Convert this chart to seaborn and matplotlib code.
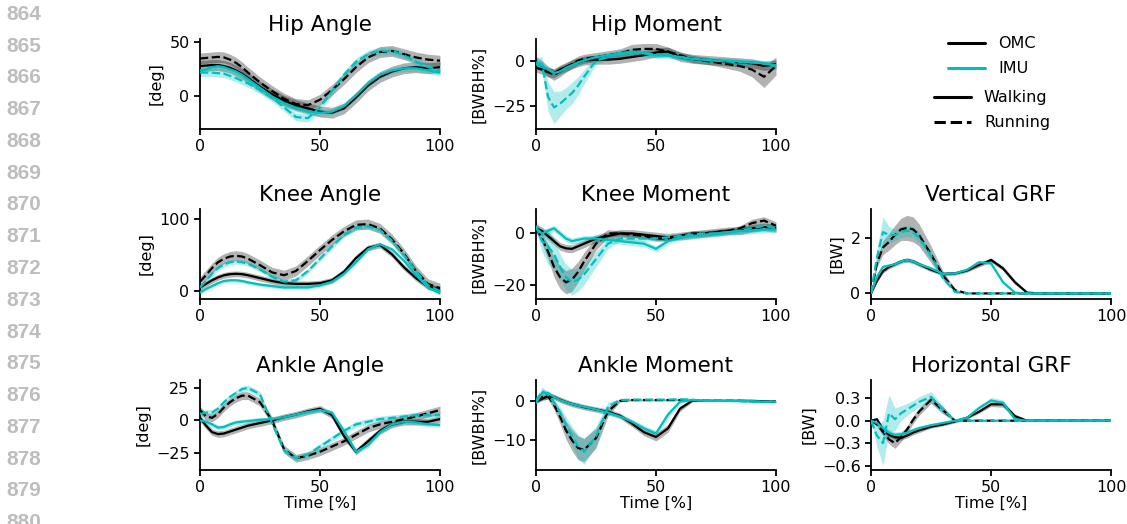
import numpy as np
import matplotlib
matplotlib.use("Agg")
import matplotlib.pyplot as plt
import seaborn as sns
from matplotlib.lines import Line2D

# ---------------- data ----------------
PCT = [0, 2.5, 5, 7.5, 10, 12.5, 15, 17.5, 20, 25, 30, 35, 40, 45, 50,
       55, 60, 65, 70, 75, 80, 85, 90, 95, 100]

# Hip angle [deg]
HA_OMC_W = [28, 28.5, 29, 29, 28, 26.5, 24, 21, 17, 9, 2, -4, -8, -11, -14, -15, -11, -1, 10, 18, 23, 26, 27, 26, 27]
HA_OMC_R = [35, 35.5, 36, 36.5, 36, 34, 31, 27, 22, 13, 5, -2, -7, -8, -3, 6, 16, 27, 36, 41, 42, 39, 36, 34, 33]
HA_IMU_W = [24, 25, 27, 28, 27, 25, 23, 20, 16, 8, 0, -6, -11, -14, -15, -14, -9, 1, 12, 20, 24, 26, 26, 24, 22]
HA_IMU_R = [22, 22, 22, 21.5, 21, 19, 17, 14.5, 12, 6, -1, -10, -19, -20, -10, 5, 20, 32, 39, 42, 42, 38, 32, 27, 24]
HA_SD = dict(omc_w=5, omc_r=5, imu_w=3, imu_r=3.5)

# Hip moment [BWBH%]
HM_OMC_W = [-4, -5, -6.5, -7, -5, -3.5, -2, -1, 0, 0.5, 0.5, 1, 2, 3, 4.5, 5, 2, 1, 0.5, 0, -0.5, -1, -1.5, -3, -2]
HM_OMC_R = [-1, -3, -6, -8, -6, -4, -2, 0, 1, 2, 3, 4, 6, 6.5, 6.5, 5, 3, 1, 0, -1, -2, -3, -5, -9, -3]
HM_IMU_W = [-2, -3, -5, -7, -6, -4, -2.5, -1, 0, 2, 3, 4, 5, 4, 3, 3, 2, 1, 0.5, 0, 0, -0.5, -1, -1.5, -3]
HM_IMU_R = [-1, -2, -20, -26, -24, -21, -18, -14, -9, 0, 2, 4, 5, 4, 3.5, 3, 2, 1, 0.5, 0, -0.5, -1, -1, -1.5, -2.5]
HM_OMC_R_SD = [3, 3, 3, 3, 3, 2.5, 2.5, 2.5, 2.5, 2.5, 2.5, 2.5, 3, 3, 3, 2.5, 2, 2, 2, 2, 2.5, 3, 4, 6, 5]
HM_IMU_R_SD = [3, 4, 8, 9, 7, 6, 6, 5, 4, 2, 2, 2, 2, 2, 2, 1.5, 1.5, 1.5, 1.5, 1.5, 1.5, 1.5, 1.5, 1.5, 1.5]
HM_SD = dict(omc_w=2.5, omc_r=HM_OMC_R_SD, imu_w=1.5, imu_r=HM_IMU_R_SD)

# Knee angle [deg]
KA_OMC_W = [5, 10, 15, 19, 22, 23.5, 24, 23.5, 22, 18, 14, 11, 10, 10, 11, 15, 27, 46, 60, 64, 51, 33, 18, 6, 3]
KA_OMC_R = [13, 22, 32, 40, 45, 48, 49, 48, 45, 36, 26, 22, 28, 42, 57, 71, 83, 92, 93, 87, 72, 52, 28, 10, 4]
KA_IMU_W = [-2, 3, 7, 11, 14, 15, 15, 14, 12, 9, 7, 5, 5, 5, 8, 13, 24, 40, 58, 65, 58, 42, 22, 5, -3]
KA_IMU_R = [5, 14, 24, 32, 37, 40, 41, 40, 38, 30, 20, 13, 15, 28, 45, 62, 78, 88, 90, 85, 70, 50, 28, 8, 0]
KA_SD = dict(omc_w=4, omc_r=7, imu_w=2.5, imu_r=3.5)

# Knee moment [BWBH%]
KM_OMC_W = [2, 1, -1, -3, -5, -5.8, -6, -5, -4, -2, -1, 0, 0, -0.5, -1, -1.5, -1, -0.5, 0, 0.5, 1, 1, 2, 2.5, 2]
KM_OMC_R = [2, -2, -7, -13, -17, -19, -18, -15, -11, -4, 0, 0, -0.5, -1, -2, -2, -1, 0, 0, 0.5, 1, 2, 4, 5, 3]
KM_IMU_W = [2, 0, 1, 2, 0, -2, -3, -2.5, -2, -2, -2.5, -3, -3.5, -4, -6, -3, -1.5, -1, -0.5, 0, 0.5, 1, 1, 1.5, 1.5]
KM_IMU_R = [3, -3, -5, -8, -13, -17, -19, -18, -16, -10, -4, -2, -2, -2, -2, -1.5, -1, -0.5, 0, 0, 0.5, 1, 2, 3, 2]
KM_OMC_R_SD = [1.5, 2, 3, 4, 4.5, 4.5, 4.5, 4, 3.5, 2.5, 1.5, 1, 1, 1, 1, 1, 1, 1, 1, 1, 1, 1, 1.5, 1.5, 1.5]
KM_IMU_R_SD = [2, 4, 7, 6, 5, 5, 5, 4.5, 4, 3, 2, 1, 1, 1, 1, 1, 1, 1, 1, 1, 1, 1, 1, 1, 1]
KM_SD = dict(omc_w=1.5, omc_r=KM_OMC_R_SD, imu_w=1.2, imu_r=KM_IMU_R_SD)

# Vertical GRF [BW]
VG_OMC_W = [0, 0.45, 0.8, 0.95, 1.05, 1.15, 1.2, 1.15, 1.05, 0.85, 0.7, 0.72, 0.82, 1.02, 1.2, 0.9, 0.4, 0.03, 0, 0, 0, 0, 0, 0, 0]
VG_OMC_R = [0, 1.1, 1.65, 1.85, 2.1, 2.3, 2.35, 2.3, 2.1, 1.4, 0.65, 0.12, 0, 0, 0, 0, 0, 0, 0, 0, 0, 0, 0, 0, 0]
VG_IMU_W = [0, 0.6, 0.95, 1.0, 1.05, 1.15, 1.2, 1.15, 1.05, 0.9, 0.7, 0.72, 0.85, 1.12, 1.08, 0.4, 0.03, 0, 0, 0, 0, 0, 0, 0, 0]
VG_IMU_R = [0, 1.3, 2.2, 2.1, 2.1, 2.2, 2.25, 2.2, 2.0, 1.35, 0.55, 0.05, 0, 0, 0, 0, 0, 0, 0, 0, 0, 0, 0, 0, 0]
VG_OMC_W_SD = [0, 0.05, 0.07, 0.07, 0.07, 0.07, 0.08, 0.08, 0.08, 0.07, 0.06, 0.06, 0.06, 0.07, 0.08, 0.08, 0.08, 0.03, 0, 0, 0, 0, 0, 0, 0]
VG_OMC_R_SD = [0, 0.15, 0.25, 0.3, 0.35, 0.4, 0.45, 0.45, 0.4, 0.3, 0.15, 0.05, 0, 0, 0, 0, 0, 0, 0, 0, 0, 0, 0, 0, 0]
VG_IMU_W_SD = [0, 0.05, 0.08, 0.06, 0.06, 0.06, 0.06, 0.06, 0.06, 0.06, 0.06, 0.06, 0.06, 0.06, 0.06, 0.06, 0.03, 0, 0, 0, 0, 0, 0, 0, 0]
VG_IMU_R_SD = [0, 0.3, 0.55, 0.3, 0.2, 0.2, 0.2, 0.2, 0.2, 0.15, 0.1, 0.03, 0, 0, 0, 0, 0, 0, 0, 0, 0, 0, 0, 0, 0]
VG_SD = dict(omc_w=VG_OMC_W_SD, omc_r=VG_OMC_R_SD, imu_w=VG_IMU_W_SD, imu_r=VG_IMU_R_SD)

# Ankle angle [deg]
AA_OMC_W = [2, -4, -9, -10.5, -10, -8.5, -7, -5.5, -4, -2, 0, 2.5, 4.5, 7, 9, 4, -12, -24, -16, -8, -3, -1, -1, -1, 1]
AA_OMC_R = [8, 3, 2, 5, 10, 14, 17, 19, 19, 14, 0, -22, -29, -27, -24, -20, -16, -11, -6, -3, -1, 1, 3, 5.5, 8]
AA_IMU_W = [0, -1, -3, -5.5, -5, -3, -1.5, -1, -0.5, 0.5, 1, 2.5, 4.5, 6.5, 8, 6, -8, -24, -19, -9, -3, -1, -1.5, -3, -3.5]
AA_IMU_R = [5, 6, 6, 9, 14, 18, 21, 24, 25, 20, -2, -23, -29, -26, -20, -14, -8, -3, -1, 1, 2, 3, 4, 4, 4]
AA_SD = dict(omc_w=2.5, omc_r=3, imu_w=1.8, imu_r=2.2)

# Ankle moment [BWBH%]
AM_OMC_W = [-0.3, 0.5, 1.2, 1, 0.3, -0.3, -0.8, -1.2, -1.6, -2.2, -2.8, -3.8, -5.8, -8, -9.2, -7, -2, 0, 0, 0, 0, 0, 0, -0.1, -0.2]
AM_OMC_R = [0, 1, 1.2, -1, -4, -7.5, -10, -12, -12.5, -9.5, -2.7, 0, 0.2, 0.2, 0.2, 0.2, 0.2, 0.2, 0, 0, 0, 0, -0.1, -0.2, -0.2]
AM_IMU_W = [-0.5, 2, 2, 1, 0.2, -0.3, -0.8, -1.2, -1.5, -2.2, -3, -4, -5.3, -7, -8.3, -3.5, -0.2, 0.2, 0, 0, 0, 0, -0.1, -0.2, -0.2]
AM_IMU_R = [0, 2.5, 1.5, -0.5, -3, -6, -9, -11.5, -13, -9, -1.5, 0.2, 0.3, 0.3, 0.3, 0.3, 0.4, 0.3, 0, 0, 0, -0.1, -0.2, -0.3, -0.3]
AM_OMC_W_SD = [0.3, 0.5, 0.7, 0.7, 0.7, 0.7, 0.7, 0.7, 0.7, 0.7, 0.7, 0.7, 0.8, 0.9, 1.0, 1.0, 0.7, 0.3, 0.1, 0.1, 0.1, 0.1, 0.1, 0.1, 0.1]
AM_OMC_R_SD = [0.3, 0.7, 0.8, 1.2, 1.8, 2.3, 2.7, 3, 3, 2.5, 1.2, 0.3, 0.2, 0.2, 0.2, 0.2, 0.2, 0.2, 0.2, 0.2, 0.2, 0.2, 0.2, 0.2, 0.2]
AM_IMU_W_SD = [0.3, 0.8, 0.6, 0.5, 0.5, 0.5, 0.5, 0.5, 0.5, 0.5, 0.5, 0.5, 0.6, 0.7, 0.8, 0.8, 0.4, 0.2, 0.1, 0.1, 0.1, 0.1, 0.1, 0.1, 0.1]
AM_IMU_R_SD = [0.3, 1.0, 0.8, 1.0, 1.5, 2, 2.5, 3, 3.2, 2.5, 1.2, 0.3, 0.3, 0.3, 0.3, 0.3, 0.3, 0.3, 0.2, 0.2, 0.2, 0.2, 0.2, 0.2, 0.2]
AM_SD = dict(omc_w=AM_OMC_W_SD, omc_r=AM_OMC_R_SD, imu_w=AM_IMU_W_SD, imu_r=AM_IMU_R_SD)

# Horizontal GRF [BW]
HG_OMC_W = [0, 0.02, -0.12, -0.19, -0.22, -0.23, -0.2, -0.16, -0.13, -0.08, -0.05, -0.01, 0.04, 0.12, 0.22, 0.22, 0.06, 0, 0, 0, 0, 0, 0, 0, 0]
HG_OMC_R = [0, -0.05, -0.15, -0.25, -0.3, -0.22, -0.12, 0.01, 0.12, 0.28, 0.14, 0.0, 0, 0, 0, 0, 0, 0, 0, 0, 0, 0, 0, 0, 0]
HG_IMU_W = [0, -0.03, -0.1, -0.16, -0.19, -0.18, -0.16, -0.13, -0.1, -0.06, -0.03, 0.0, 0.04, 0.17, 0.27, 0.24, 0.02, 0, 0, 0, 0, 0, 0, 0, 0]
HG_IMU_R = [0, -0.2, -0.3, 0.1, 0.02, 0.1, 0.15, 0.2, 0.25, 0.32, 0.15, 0.0, 0, 0, 0, 0, 0, 0, 0, 0, 0, 0, 0, 0, 0]
HG_OMC_W_SD = [0, 0.02, 0.03, 0.03, 0.03, 0.03, 0.03, 0.03, 0.03, 0.02, 0.02, 0.02, 0.02, 0.02, 0.03, 0.04, 0.03, 0.01, 0, 0, 0, 0, 0, 0, 0]
HG_OMC_R_SD = [0, 0.03, 0.05, 0.06, 0.07, 0.06, 0.05, 0.05, 0.05, 0.05, 0.05, 0.01, 0, 0, 0, 0, 0, 0, 0, 0, 0, 0, 0, 0, 0]
HG_IMU_W_SD = [0, 0.02, 0.04, 0.04, 0.04, 0.04, 0.04, 0.03, 0.03, 0.02, 0.02, 0.02, 0.02, 0.03, 0.04, 0.04, 0.02, 0, 0, 0, 0, 0, 0, 0, 0]
HG_IMU_R_SD = [0, 0.15, 0.3, 0.25, 0.15, 0.1, 0.08, 0.07, 0.07, 0.07, 0.05, 0.01, 0, 0, 0, 0, 0, 0, 0, 0, 0, 0, 0, 0, 0]
HG_SD = dict(omc_w=HG_OMC_W_SD, omc_r=HG_OMC_R_SD, imu_w=HG_IMU_W_SD, imu_r=HG_IMU_R_SD)

TITLES = ["Hip Angle", "Hip Moment", "Knee Angle", "Knee Moment", "Vertical GRF",
          "Ankle Angle", "Ankle Moment", "Horizontal GRF"]
UNITS = ["[deg]", "[BWBH%]", "[deg]", "[BWBH%]", "[BW]", "[deg]", "[BWBH%]", "[BW]"]
YTICKS = [[0, 50], [-25, 0], [0, 100], [-20, 0], [0, 2], [-25, 0, 25], [-10, 0],
          [-0.6, -0.3, 0.0, 0.3]]
YLIMS = [(-30, 53), (-38, 12), (-11, 114), (-25.5, 9.5), (-0.2, 3.03), (-38, 31),
         (-17.6, 5.3), (-0.66, 0.545)]
LINE_NUMBERS = list(range(864, 881))

PANELS = [
    (HA_OMC_W, HA_OMC_R, HA_IMU_W, HA_IMU_R, HA_SD),
    (HM_OMC_W, HM_OMC_R, HM_IMU_W, HM_IMU_R, HM_SD),
    (KA_OMC_W, KA_OMC_R, KA_IMU_W, KA_IMU_R, KA_SD),
    (KM_OMC_W, KM_OMC_R, KM_IMU_W, KM_IMU_R, KM_SD),
    (VG_OMC_W, VG_OMC_R, VG_IMU_W, VG_IMU_R, VG_SD),
    (AA_OMC_W, AA_OMC_R, AA_IMU_W, AA_IMU_R, AA_SD),
    (AM_OMC_W, AM_OMC_R, AM_IMU_W, AM_IMU_R, AM_SD),
    (HG_OMC_W, HG_OMC_R, HG_IMU_W, HG_IMU_R, HG_SD),
]
# grid cell (row, col) for each panel
CELLS = [(0, 0), (0, 1), (1, 0), (1, 1), (1, 2), (2, 0), (2, 1), (2, 2)]

# ---------------- style ----------------
sns.set_style("ticks")
plt.rcParams["font.family"] = ["DejaVu Sans"]
plt.rcParams["axes.linewidth"] = 1.3
plt.rcParams["xtick.major.width"] = 1.3
plt.rcParams["ytick.major.width"] = 1.3
plt.rcParams["xtick.major.size"] = 4
plt.rcParams["ytick.major.size"] = 4
plt.rcParams["axes.edgecolor"] = "black"
plt.rcParams["xtick.color"] = "black"
plt.rcParams["ytick.color"] = "black"
plt.rcParams["text.color"] = "black"
plt.rcParams["axes.labelcolor"] = "black"
plt.rcParams["axes.titlecolor"] = "black"

W, H = 1127, 524
fig = plt.figure(figsize=(W / 100, H / 100), dpi=100)

COL_LEFT = [200, 536, 871]
ROW_TOP = [39, 209, 380]
AX_W, AX_H = 240, 90

OMC_C = "black"
IMU_C = (0.0, 0.75, 0.75)
LW = 1.6

for i, (cells, pdata) in enumerate(zip(CELLS, PANELS)):
    r, c = cells
    ax = fig.add_axes([COL_LEFT[c] / W, 1 - (ROW_TOP[r] + AX_H) / H, AX_W / W, AX_H / H])
    omc_w, omc_r, imu_w, imu_r, sd = pdata
    curves = [
        (omc_w, sd["omc_w"], OMC_C, "-"),
        (omc_r, sd["omc_r"], OMC_C, "--"),
        (imu_w, sd["imu_w"], IMU_C, "-"),
        (imu_r, sd["imu_r"], IMU_C, "--"),
    ]
    x = np.array(PCT, dtype=float)
    for m, s, col, ls in curves:
        m = np.array(m, dtype=float)
        s = np.broadcast_to(np.array(s, dtype=float), m.shape)
        ax.fill_between(x, m - s, m + s, color=col, alpha=0.3, linewidth=0, zorder=1)
    for m, s, col, ls in curves:
        sns.lineplot(x=x, y=np.array(m, dtype=float), ax=ax, color=col, linestyle=ls,
                     linewidth=LW, zorder=3)
    ax.set_xlim(0, 100)
    ax.set_ylim(*YLIMS[i])
    ax.set_xticks([0, 50, 100])
    ax.set_yticks(YTICKS[i])
    if i == 7:
        ax.set_yticklabels(["−0.6", "−0.3", "0.0", "0.3"])
    ax.tick_params(labelsize=11.5, colors="black")
    ax.set_title(TITLES[i], fontsize=15.5, pad=6, color="black")
    ax.set_ylabel(UNITS[i], fontsize=11.5, labelpad=4, color="black")
    if r == 2:
        ax.set_xlabel("Time [%]", fontsize=11.5, labelpad=0, color="black")
    else:
        ax.set_xlabel("")
    sns.despine(ax=ax)

# legends
h1 = [Line2D([], [], color=OMC_C, lw=2.2), Line2D([], [], color=IMU_C, lw=2.2)]
leg1 = fig.legend(h1, ["OMC", "IMU"], loc="upper left",
                  bbox_to_anchor=(934 / W, 1 - 22 / H), frameon=False,
                  fontsize=11.5, handlelength=2.3, handletextpad=0.8,
                  labelspacing=0.62, borderaxespad=0.5)
h2 = [Line2D([], [], color="black", lw=2.2, ls="-"),
      Line2D([], [], color="black", lw=2.2, ls="--")]
leg2 = fig.legend(h2, ["Walking", "Running"], loc="upper left",
                  bbox_to_anchor=(920 / W, 1 - 76 / H), frameon=False,
                  fontsize=11.5, handlelength=2.3, handletextpad=0.8,
                  labelspacing=0.62, borderaxespad=0.5)
for lg in (leg1, leg2):
    for t in lg.get_texts():
        t.set_color("black")

# manuscript line numbers on the left margin
for n in LINE_NUMBERS:
    yc = 77.8 + (n - 866) * 31.78
    fig.text(6 / W, 1 - yc / H, str(n), fontsize=15, fontweight="bold",
             color="#bdbdbd", family=["Liberation Sans", "DejaVu Sans"],
             ha="left", va="center")

fig.savefig("out.png", dpi=100)
